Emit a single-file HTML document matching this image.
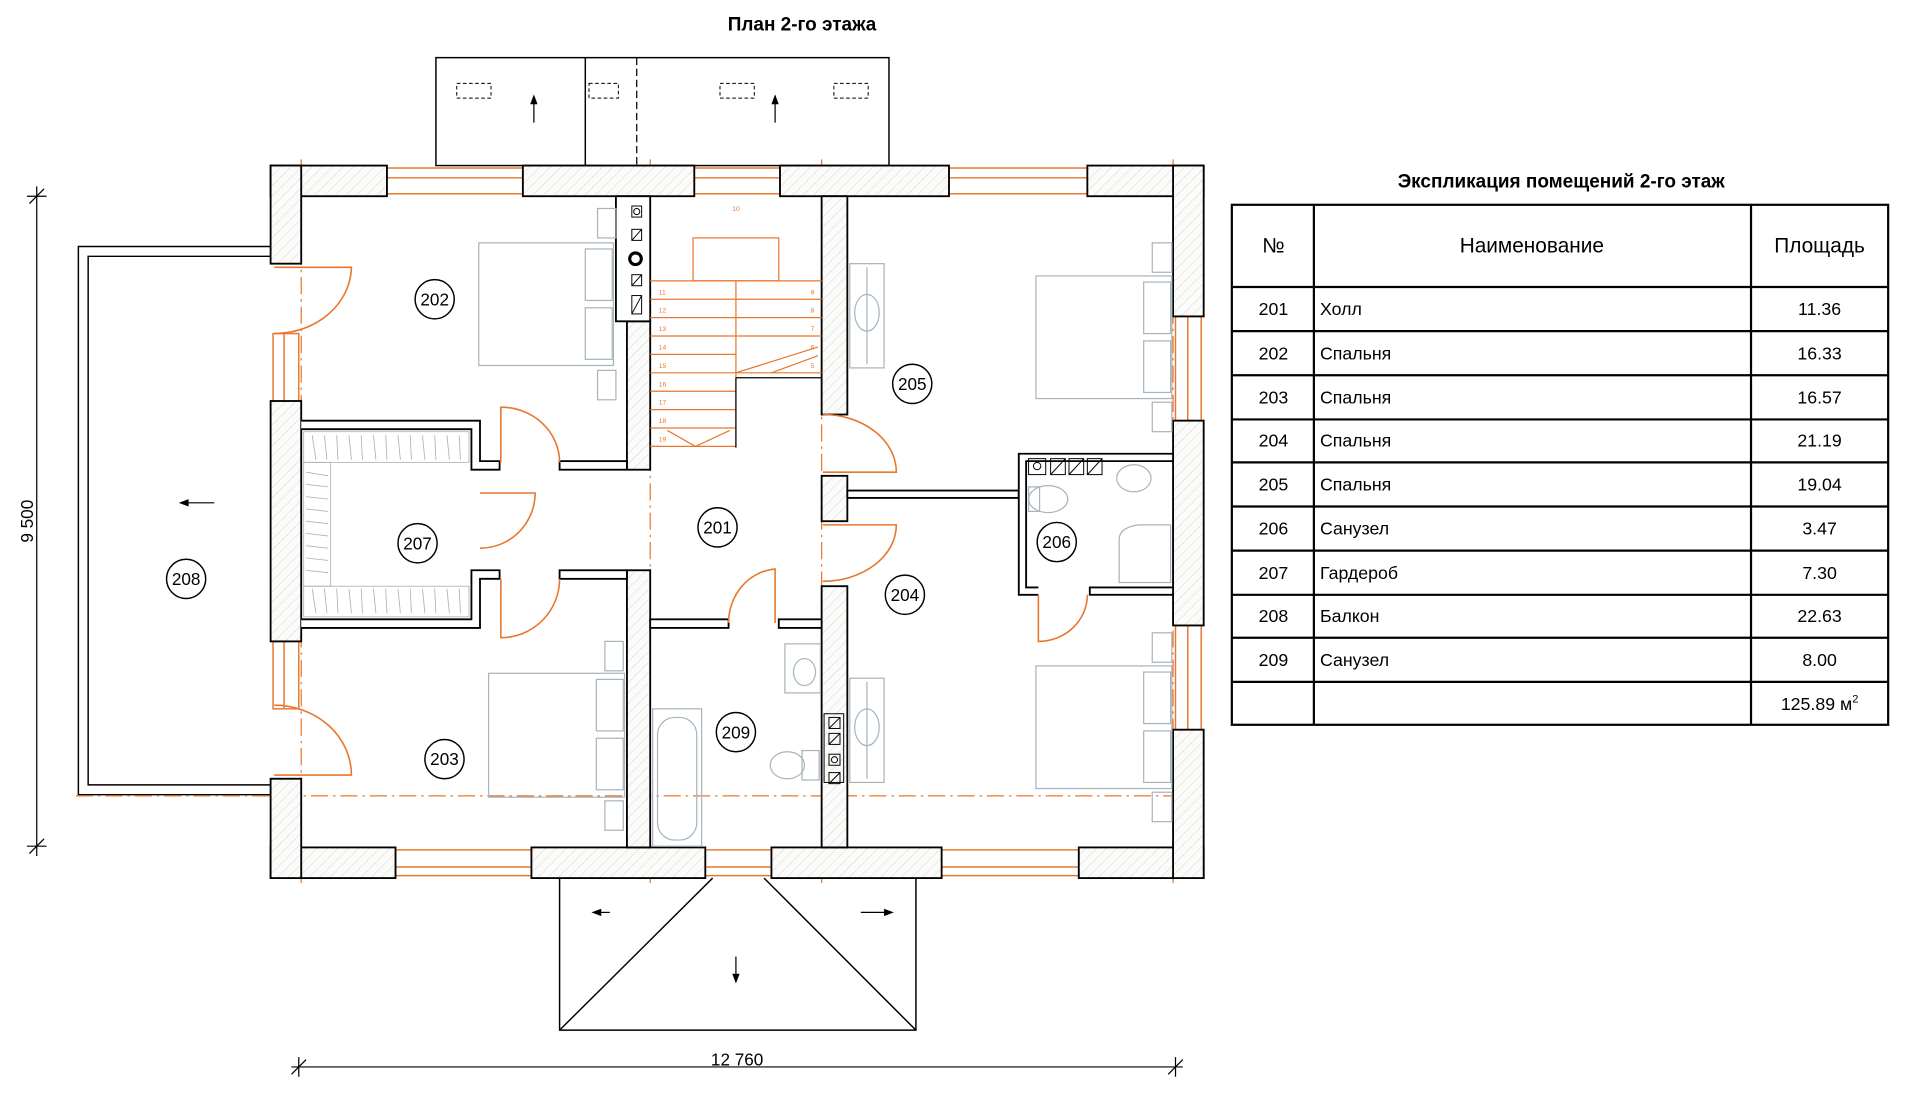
<!DOCTYPE html>
<html><head><meta charset="utf-8"><style>
html,body{margin:0;padding:0;background:#fff}
svg{display:block}
text{font-family:"Liberation Sans",sans-serif}
</style></head><body>
<svg width="1920" height="1116" viewBox="0 0 1568 910" preserveAspectRatio="none" xmlns="http://www.w3.org/2000/svg">
<defs>
<pattern id="h" width="6" height="6" patternUnits="userSpaceOnUse" patternTransform="rotate(45)">
<rect width="6" height="6" fill="#fbfbfa"/><line x1="0" y1="0" x2="0" y2="6" stroke="#dcdcd8" stroke-width="1"/>
</pattern>
</defs>
<text x="655" y="25" font-size="15.5" font-weight="bold" text-anchor="middle">План 2-го этажа</text>

<g fill="none" stroke="#000" stroke-width="1.2">
<rect x="356" y="47" width="370" height="88"/>
<line x1="478" y1="47" x2="478" y2="135"/>
</g>
<line x1="520" y1="47" x2="520" y2="135" stroke="#000" stroke-dasharray="6,3"/>
<g fill="none" stroke="#000" stroke-width="0.8" stroke-dasharray="3,2">
<rect x="373" y="68" width="28" height="12"/><rect x="481" y="68" width="24" height="12"/>
<rect x="588" y="68" width="28" height="12"/><rect x="681" y="68" width="28" height="12"/>
</g>
<g stroke="#000" stroke-width="1"><line x1="436" y1="100" x2="436" y2="80"/><line x1="633" y1="100" x2="633" y2="80"/></g>
<polygon points="436,77 433,85 439,85" /><polygon points="633,77 630,85 636,85"/>

<g fill="none" stroke="#000" stroke-width="1.2">
<polyline points="221,201 64,201 64,648 221,648"/>
<polyline points="221,209 72,209 72,640 221,640"/>
</g>
<line x1="175" y1="410" x2="150" y2="410" stroke="#000"/><polygon points="146,410 154,407 154,413"/>

<g fill="none" stroke="#000" stroke-width="1.2">
<polyline points="457,716 457,840 748,840 748,716"/>
<line x1="582" y1="716" x2="457" y2="840"/><line x1="624" y1="716" x2="748" y2="840"/>
</g>
<g stroke="#000"><line x1="498" y1="744" x2="486" y2="744"/><line x1="703" y1="744" x2="726" y2="744"/><line x1="601" y1="780" x2="601" y2="798"/></g>
<polygon points="483,744 491,741 491,747"/><polygon points="730,744 722,741 722,747"/><polygon points="601,802 598,794 604,794"/>

<g stroke="#e8772e" stroke-width="1" stroke-dasharray="14,4,2,4" fill="none">
<line x1="62" y1="649" x2="965" y2="649"/>
<line x1="246" y1="130" x2="246" y2="720"/>
<line x1="531" y1="130" x2="531" y2="720"/>
<line x1="671" y1="130" x2="671" y2="720"/>
<line x1="958" y1="130" x2="958" y2="720"/>
</g>

<g stroke="#e8772e" stroke-width="1.2" fill="none">
<rect x="316" y="137" width="111" height="21"/><line x1="316" y1="145" x2="427" y2="145"/>
<rect x="567" y="137" width="70" height="21"/><line x1="567" y1="145" x2="637" y2="145"/>
<rect x="775" y="137" width="113" height="21"/><line x1="775" y1="145" x2="888" y2="145"/>
<rect x="323" y="693" width="111" height="21"/><line x1="323" y1="707" x2="434" y2="707"/>
<rect x="576" y="693" width="54" height="21"/><line x1="576" y1="707" x2="630" y2="707"/>
<rect x="769" y="693" width="112" height="21"/><line x1="769" y1="707" x2="881" y2="707"/>
<rect x="223" y="272" width="21" height="55"/><line x1="232" y1="272" x2="232" y2="327"/>
<rect x="223" y="523" width="21" height="55"/><line x1="232" y1="523" x2="232" y2="578"/>
<rect x="960" y="258" width="21" height="85"/><line x1="970" y1="258" x2="970" y2="343"/>
<rect x="960" y="510" width="21" height="85"/><line x1="970" y1="510" x2="970" y2="595"/>
</g>

<g fill="url(#h)" stroke="#000" stroke-width="1.5">
<rect x="221" y="135" width="95" height="25"/><rect x="427" y="135" width="140" height="25"/>
<rect x="637" y="135" width="138" height="25"/><rect x="888" y="135" width="95" height="25"/>
<rect x="221" y="691" width="102" height="25"/><rect x="434" y="691" width="142" height="25"/>
<rect x="630" y="691" width="139" height="25"/><rect x="881" y="691" width="102" height="25"/>
<rect x="221" y="135" width="25" height="80"/><rect x="221" y="327" width="25" height="196"/>
<rect x="221" y="635" width="25" height="81"/>
<rect x="958" y="135" width="25" height="123"/><rect x="958" y="343" width="25" height="167"/>
<rect x="958" y="595" width="25" height="121"/>
<rect x="512" y="262" width="19" height="121"/>
<rect x="671" y="160" width="21" height="178"/>
<rect x="671" y="388" width="21" height="37"/>
<rect x="671" y="478" width="21" height="213"/>
<rect x="512" y="465" width="19" height="226"/>
</g>
<g fill="#fff" stroke="#000" stroke-width="1.5">
<rect x="503" y="160" width="28" height="102"/>
<rect x="457" y="376" width="55" height="7"/><rect x="457" y="465" width="55" height="7"/>
<rect x="692" y="400" width="140" height="6"/>
<rect x="531" y="505" width="64" height="7"/><rect x="636" y="505" width="35" height="7"/>
<polyline points="848,485 832,485 832,370 958,370 958,376 838,376 838,479 848,479" />
<rect x="890" y="479" width="68" height="6"/>
<polyline points="246,343 392,343 392,376 408,376 408,383 385,383 385,350 246,350"/>
<polyline points="246,512 392,512 392,472 408,472 408,465 385,465 385,505 246,505"/>
</g>
<g fill="none" stroke="#000" stroke-width="0.8">
<rect x="516" y="168" width="8" height="9"/><circle cx="520" cy="172.5" r="2.5"/>
<rect x="516" y="187" width="8" height="9"/><line x1="516" y1="196" x2="524" y2="187"/>
<rect x="516" y="224" width="8" height="9"/><line x1="516" y1="233" x2="524" y2="224"/>
<rect x="516" y="241" width="8" height="15"/><line x1="516" y1="256" x2="524" y2="241"/>
</g>
<circle cx="519" cy="211" r="6" fill="#000"/><circle cx="519" cy="211" r="3.5" fill="#fff"/>

<g stroke="#a8b4bc" stroke-width="0.7" fill="none">
<rect x="248" y="352" width="135" height="25"/><rect x="248" y="478" width="135" height="25"/>
<rect x="248" y="377" width="22" height="101"/>
<path d="M255 355 L258 375 M265 355 L267 375 M275 355 L276 375 M285 355 L287 375 M295 355 L296 375 M305 355 L307 375 M315 355 L316 375 M325 355 L327 375 M335 355 L336 375 M345 355 L347 375 M355 355 L356 375 M365 355 L367 375 M375 355 L376 375"/>
<path d="M255 480 L258 500 M265 480 L267 500 M275 480 L276 500 M285 480 L287 500 M295 480 L296 500 M305 480 L307 500 M315 480 L316 500 M325 480 L327 500 M335 480 L336 500 M345 480 L347 500 M355 480 L356 500 M365 480 L367 500 M375 480 L376 500"/>
<path d="M250 385 L268 388 M250 395 L268 397 M250 405 L268 407 M250 415 L268 417 M250 425 L268 427 M250 435 L268 437 M250 445 L268 447 M250 455 L268 457 M250 465 L268 467"/>
</g>

<g stroke="#a8b4bc" stroke-width="1" fill="none">
<rect x="391" y="198" width="110" height="100"/><rect x="478" y="203" width="22" height="42"/><rect x="478" y="251" width="22" height="42"/>
<rect x="488" y="170" width="15" height="24"/><rect x="488" y="302" width="15" height="24"/>
<rect x="399" y="549" width="111" height="101"/><rect x="487" y="554" width="22" height="42"/><rect x="487" y="602" width="22" height="42"/>
<rect x="494" y="523" width="15" height="24"/><rect x="494" y="653" width="15" height="24"/>
<rect x="846" y="225" width="111" height="100"/><rect x="934" y="230" width="22" height="42"/><rect x="934" y="278" width="22" height="42"/>
<rect x="941" y="198" width="16" height="24"/><rect x="941" y="328" width="16" height="24"/>
<rect x="846" y="543" width="111" height="100"/><rect x="934" y="548" width="22" height="42"/><rect x="934" y="596" width="22" height="42"/>
<rect x="941" y="516" width="16" height="24"/><rect x="941" y="646" width="16" height="24"/>
<rect x="694" y="215" width="28" height="85"/><ellipse cx="708" cy="255" rx="10" ry="15"/><line x1="708" y1="218" x2="708" y2="297"/>
<rect x="694" y="553" width="28" height="85"/><ellipse cx="708" cy="593" rx="10" ry="15"/><line x1="708" y1="556" x2="708" y2="635"/>
<rect x="533" y="578" width="40" height="112"/><rect x="537" y="585" width="32" height="100" rx="14"/>
<rect x="641" y="525" width="29" height="40"/><ellipse cx="657" cy="548" rx="9" ry="11"/>
<ellipse cx="643" cy="624" rx="14" ry="11"/><rect x="655" y="612" width="14" height="24"/>
<ellipse cx="856" cy="407" rx="16" ry="11"/><rect x="840" y="397" width="9" height="20"/>
<ellipse cx="926" cy="390" rx="14" ry="11"/><path d="M914 475 L914 440 Q914 430 930 428 L956 428 L956 475 Z"/>
</g>
<g fill="none" stroke="#000" stroke-width="0.8">
<rect x="840" y="374" width="14" height="13"/><circle cx="847" cy="380" r="3"/>
<rect x="858" y="374" width="12" height="13"/><line x1="858" y1="387" x2="870" y2="374"/>
<rect x="873" y="374" width="12" height="13"/><line x1="873" y1="387" x2="885" y2="374"/>
<rect x="888" y="374" width="12" height="13"/><line x1="888" y1="387" x2="900" y2="374"/>
<rect x="673" y="582" width="16" height="56"/>
<rect x="677" y="585" width="9" height="9"/><line x1="677" y1="594" x2="686" y2="585"/>
<rect x="677" y="598" width="9" height="9"/><line x1="677" y1="607" x2="686" y2="598"/>
<rect x="677" y="615" width="9" height="9"/><circle cx="681.5" cy="619.5" r="2.5"/>
<rect x="677" y="630" width="9" height="9"/><line x1="677" y1="639" x2="686" y2="630"/>
</g>

<g stroke="#e8772e" stroke-width="1" fill="none">
<rect x="566" y="194" width="70" height="35"/>
<line x1="531" y1="229" x2="671" y2="229"/>
<line x1="531" y1="244" x2="671" y2="244"/><line x1="531" y1="259" x2="671" y2="259"/>
<line x1="531" y1="274" x2="671" y2="274"/><line x1="531" y1="289" x2="601" y2="289"/>
<line x1="531" y1="304" x2="601" y2="304"/><line x1="531" y1="319" x2="601" y2="319"/>
<line x1="531" y1="334" x2="601" y2="334"/><line x1="531" y1="349" x2="601" y2="349"/>
<line x1="601" y1="229" x2="601" y2="364"/>
<line x1="531" y1="364" x2="601" y2="364"/>
<line x1="601" y1="304" x2="671" y2="304"/>
<path d="M601 304 L668 283 M630 304 L668 290 M545 351 L568 364 L596 351"/>
</g>
<line x1="601" y1="308" x2="671" y2="308" stroke="#000" stroke-width="1"/>
<line x1="601" y1="308" x2="601" y2="365" stroke="#000" stroke-width="1"/>
<g font-size="5.5" fill="#e8772e">
<text x="538" y="240">11</text><text x="538" y="255">12</text><text x="538" y="270">13</text><text x="538" y="285">14</text><text x="538" y="300">15</text><text x="538" y="315">16</text><text x="538" y="330">17</text><text x="538" y="345">18</text><text x="538" y="360">19</text>
<text x="662" y="240">9</text><text x="662" y="255">8</text><text x="662" y="270">7</text><text x="662" y="285">6</text><text x="662" y="300">5</text>
<text x="598" y="172">10</text>
</g>

<g stroke="#e8772e" stroke-width="1.3" fill="none">
<path d="M224 218 L287 218 A63 55 0 0 1 224 272"/>
<path d="M224 632 L287 632 A63 57 0 0 0 224 575"/>
<path d="M409 377 L409 332 A48 45 0 0 1 457 377"/>
<path d="M409 472 L409 520 A48 48 0 0 0 457 472"/>
<path d="M392 402 L437 402 A45 45 0 0 1 392 447"/>
<path d="M633 508 L633 464 A41 44 0 0 0 595 508"/>
<path d="M672 385 L732 385 A60 47 0 0 0 672 338"/>
<path d="M672 428 L732 428 A60 46 0 0 1 672 474"/>
<path d="M848 485 L848 523 A40 38 0 0 0 888 485"/>
</g>

<g fill="#fff" stroke="#000" stroke-width="1.2">
<circle cx="355" cy="244" r="16"/><circle cx="341" cy="443" r="16"/><circle cx="152" cy="472" r="16"/>
<circle cx="363" cy="619" r="16"/><circle cx="586" cy="430" r="16"/><circle cx="745" cy="313" r="16"/>
<circle cx="739" cy="485" r="16"/><circle cx="863" cy="442" r="16"/><circle cx="601" cy="597" r="16"/>
</g>
<g font-size="14" text-anchor="middle">
<text x="355" y="249">202</text><text x="341" y="448">207</text><text x="152" y="477">208</text>
<text x="363" y="624">203</text><text x="586" y="435">201</text><text x="745" y="318">205</text>
<text x="739" y="490">204</text><text x="863" y="447">206</text><text x="601" y="602">209</text>
</g>

<g stroke="#000" stroke-width="1">
<line x1="30" y1="152" x2="30" y2="698"/>
<line x1="24" y1="166" x2="36" y2="154"/><line x1="24" y1="696" x2="36" y2="684"/>
<line x1="22" y1="160" x2="38" y2="160"/><line x1="22" y1="690" x2="38" y2="690"/>
<line x1="238" y1="870" x2="966" y2="870"/>
<line x1="238" y1="876" x2="250" y2="864"/><line x1="954" y1="876" x2="966" y2="864"/>
<line x1="244" y1="862" x2="244" y2="878"/><line x1="960" y1="862" x2="960" y2="878"/>
</g>
<text x="602" y="869" font-size="14" text-anchor="middle">12 760</text>
<text transform="translate(27,425) rotate(-90)" font-size="14" text-anchor="middle">9 500</text>

<text x="1275" y="153" font-size="15.5" font-weight="bold" text-anchor="middle">Экспликация помещений 2-го этаж</text>
<g stroke="#000" stroke-width="1.8" fill="none">
<rect x="1006" y="167" width="536" height="424"/>
<line x1="1073" y1="167" x2="1073" y2="591"/><line x1="1430" y1="167" x2="1430" y2="591"/>
<line x1="1006" y1="234" x2="1542" y2="234"/><line x1="1006" y1="270" x2="1542" y2="270"/>
<line x1="1006" y1="306" x2="1542" y2="306"/><line x1="1006" y1="342" x2="1542" y2="342"/>
<line x1="1006" y1="377" x2="1542" y2="377"/><line x1="1006" y1="413" x2="1542" y2="413"/>
<line x1="1006" y1="449" x2="1542" y2="449"/><line x1="1006" y1="485" x2="1542" y2="485"/>
<line x1="1006" y1="520" x2="1542" y2="520"/><line x1="1006" y1="556" x2="1542" y2="556"/>
</g>
<g font-size="17" text-anchor="middle">
<text x="1040" y="206">№</text><text x="1251" y="206">Наименование</text><text x="1486" y="206">Площадь</text>
</g>
<g font-size="14.5">
<g text-anchor="middle">
<text x="1040" y="257">201</text><text x="1040" y="293">202</text><text x="1040" y="329">203</text>
<text x="1040" y="364">204</text><text x="1040" y="400">205</text><text x="1040" y="436">206</text>
<text x="1040" y="472">207</text><text x="1040" y="507">208</text><text x="1040" y="543">209</text>
<text x="1486" y="257">11.36</text><text x="1486" y="293">16.33</text><text x="1486" y="329">16.57</text>
<text x="1486" y="364">21.19</text><text x="1486" y="400">19.04</text><text x="1486" y="436">3.47</text>
<text x="1486" y="472">7.30</text><text x="1486" y="507">22.63</text><text x="1486" y="543">8.00</text>
<text x="1486" y="579">125.89 м<tspan font-size="9" dy="-6">2</tspan></text>
</g>
<text x="1078" y="257">Холл</text><text x="1078" y="293">Спальня</text><text x="1078" y="329">Спальня</text>
<text x="1078" y="364">Спальня</text><text x="1078" y="400">Спальня</text><text x="1078" y="436">Санузел</text>
<text x="1078" y="472">Гардероб</text><text x="1078" y="507">Балкон</text><text x="1078" y="543">Санузел</text>
</g>
</svg>
</body></html>
